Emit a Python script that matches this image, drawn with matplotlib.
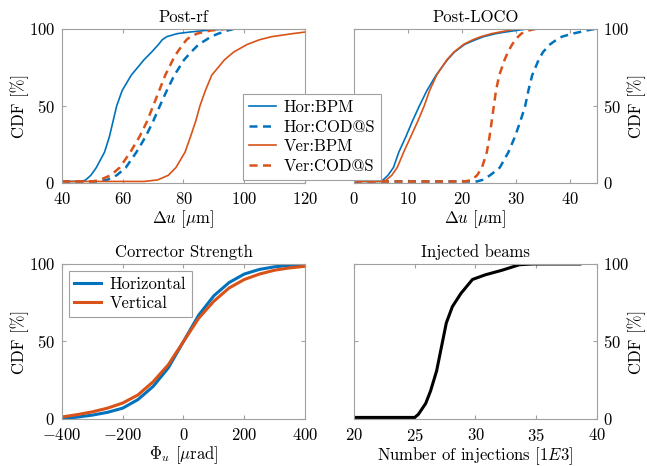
import matplotlib
matplotlib.use("Agg")
import matplotlib.pyplot as plt

plt.rcParams['font.family'] = ['cmr10', 'DejaVu Serif']
plt.rcParams['mathtext.fontset'] = 'cm'
plt.rcParams['axes.formatter.use_mathtext'] = True
plt.rcParams['font.size'] = 12

azul = '#0072BD'
naranja = '#D95319'
gris = '#a0a0a0'

# niveles de la CDF [%] comunes a los dos paneles de arriba
niveles = [1, 1, 2, 5, 10, 20, 30, 40, 50, 60, 70, 80, 85, 90, 93, 95, 97, 98, 99, 100]

# Post-rf, Delta u [um] para cada nivel
rf_hor_bpm = [40, 46.5, 47.8, 49.5, 51.3, 54, 55.6, 56.8, 58, 59.8, 62.8, 67, 69.5, 71.8, 73, 74.5, 78, 82, 87, 94]
rf_hor_cod = [40, 52, 54.8, 58, 61, 64.5, 67.5, 70, 72.2, 74.5, 77, 80.2, 82.5, 85, 87.5, 89, 91.5, 93, 94.5, 96.5]
rf_ver_bpm = [40, 67, 71.5, 75, 77.5, 80.5, 82.3, 84, 85.4, 87.2, 89.3, 93.5, 96.5, 101, 105, 109, 116, 120, 125, 130]
rf_ver_cod = [40, 50, 52.5, 56, 59, 62.5, 65.5, 68, 70, 72, 74, 76.5, 78, 79.8, 81, 82.3, 84.5, 86.5, 89, 94]

# Post-LOCO
loco_hor_bpm = [0, 4.8, 5.4, 6.3, 7.3, 8.3, 9.6, 10.8, 12.1, 13.5, 15.2, 17.3, 18.6, 20.5, 22.5, 24, 26.3, 28, 30, 32]
loco_hor_cod = [0, 22.8, 23.8, 25.2, 27, 28.6, 29.8, 30.8, 31.7, 32.3, 33, 34.2, 35, 36.3, 37.5, 38.5, 40.5, 41.8, 43, 44.6]
loco_ver_bpm = [0, 5.5, 6, 7, 8, 9.2, 10.5, 11.8, 13, 14, 15.3, 17.2, 18.5, 20.3, 22, 23.5, 25.5, 27, 28.5, 30]
loco_ver_cod = [0, 20.5, 21.8, 22.8, 23.7, 24.6, 25.1, 25.5, 25.9, 26.3, 26.9, 27.9, 28.5, 29.3, 29.9, 30.4, 31, 31.6, 32.3, 33.6]

# Corrector strength [urad] -> CDF [%]
phi = [-400, -350, -300, -250, -200, -150, -100, -50, 0, 50, 100, 150, 200, 250, 300, 350, 400]
cdf_hor = [0.3, 1.2, 2.5, 4.3, 7, 12.5, 21, 33, 50, 67, 79.5, 88, 93.5, 96.5, 98.2, 99.1, 99.6]
cdf_ver = [1.3, 2.8, 4.6, 7, 10.3, 15.5, 24, 35, 50, 65, 76, 84.5, 90, 93.5, 96, 97.5, 98.5]

# Injected beams [1E3]
inj_niveles = [1, 1, 3, 10, 18, 31, 46.5, 62, 72.5, 81, 90, 93, 96, 99.5, 100, 100]
inj_x = [20, 25, 25.3, 25.9, 26.3, 26.8, 27.2, 27.6, 28.1, 28.8, 29.75, 30.8, 32.2, 33.6, 34.7, 38.6]


def estilo(ax, derecha=False):
    for s in ax.spines.values():
        s.set_color(gris)
        s.set_linewidth(0.8)
    ax.tick_params(direction='in', length=3, color=gris, top=True, right=True,
                   labelsize=12)
    ax.tick_params(axis='x', pad=6)
    ax.set_ylim(0, 100)
    ax.set_yticks([0, 50, 100])
    if derecha:
        ax.tick_params(axis='y', pad=4)
        ax.set_ylabel('CDF [%]', labelpad=-1)
        ax.yaxis.set_label_position('right')
        ax.tick_params(labelleft=False, labelright=True)
    else:
        ax.tick_params(axis='y', pad=5)
        ax.set_ylabel('CDF [%]', labelpad=0)


fig = plt.figure(figsize=(6.47, 4.66), dpi=100)
ax1 = fig.add_axes([0.0958, 0.6073, 0.3756, 0.3305])
ax2 = fig.add_axes([0.5471, 0.6073, 0.3756, 0.3305])
ax3 = fig.add_axes([0.0958, 0.1009, 0.3756, 0.3326])
ax4 = fig.add_axes([0.5471, 0.1009, 0.3756, 0.3326])

dash = (3.2, 2.2)
l1, = ax1.plot(rf_hor_bpm, niveles, color=azul, lw=1.2, label='Hor:BPM')
l2, = ax1.plot(rf_hor_cod, niveles, color=azul, lw=1.8, ls='--', dashes=dash, label='Hor:COD@S')
l3, = ax1.plot(rf_ver_bpm, niveles, color=naranja, lw=1.2, label='Ver:BPM')
l4, = ax1.plot(rf_ver_cod, niveles, color=naranja, lw=1.8, ls='--', dashes=dash, label='Ver:COD@S')
ax1.set_xlim(40, 120)
ax1.set_xticks([40, 60, 80, 100, 120])
ax1.set_xlabel(r'$\Delta u$ [$\mu$m]', labelpad=1)
ax1.set_title('Post-rf', fontsize=12, pad=5)
estilo(ax1)

ax2.plot(loco_hor_bpm, niveles, color=azul, lw=1.2)
ax2.plot(loco_hor_cod, niveles, color=azul, lw=1.8, ls='--', dashes=dash)
ax2.plot(loco_ver_bpm, niveles, color=naranja, lw=1.2)
ax2.plot(loco_ver_cod, niveles, color=naranja, lw=1.8, ls='--', dashes=dash)
ax2.set_xlim(0, 45)
ax2.set_xticks([0, 10, 20, 30, 40])
ax2.set_xlabel(r'$\Delta u$ [$\mu$m]', labelpad=1)
ax2.set_title('Post-LOCO', fontsize=12, pad=5)
estilo(ax2, derecha=True)

leg = fig.legend(handles=[l1, l2, l3, l4], loc='upper left',
                 bbox_to_anchor=(0.3756, 0.798), fontsize=12, frameon=True,
                 fancybox=False, edgecolor=gris, framealpha=1,
                 handlelength=1.6, handletextpad=0.5, borderpad=0.35,
                 labelspacing=0.25, borderaxespad=0)
leg.get_frame().set_linewidth(0.8)

ax3.plot(phi, cdf_hor, color=azul, lw=2.2, label='Horizontal')
ax3.plot(phi, cdf_ver, color=naranja, lw=2.2, label='Vertical')
ax3.set_xlim(-400, 400)
ax3.set_xticks([-400, -200, 0, 200, 400])
ax3.set_xlabel(r'$\mathit{\Phi}_u$ [$\mu$rad]', labelpad=1)
ax3.set_title('Corrector Strength', fontsize=12, pad=5)
estilo(ax3)
leg3 = ax3.legend(loc='upper left', fontsize=12, fancybox=False, edgecolor=gris,
                  framealpha=1, handlelength=1.6, handletextpad=0.5,
                  borderpad=0.35, labelspacing=0.25, borderaxespad=0.4)
leg3.get_frame().set_linewidth(0.8)

ax4.plot(inj_x, inj_niveles, color='black', lw=2.2)
ax4.set_xlim(20, 40)
ax4.set_xticks([20, 25, 30, 35, 40])
ax4.set_xlabel(r'Number of injections [1$E$3]', labelpad=1)
ax4.set_title('Injected beams', fontsize=12, pad=5)
estilo(ax4, derecha=True)

plt.savefig('out.png', dpi=100)
